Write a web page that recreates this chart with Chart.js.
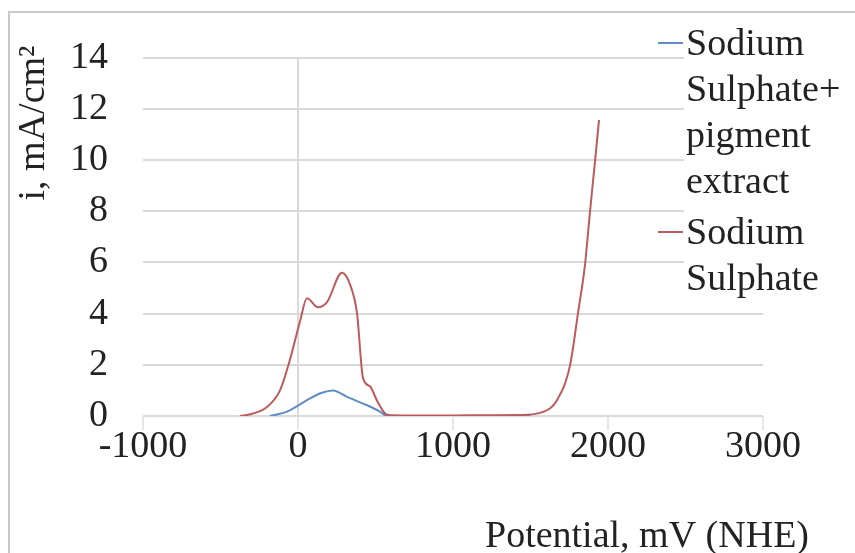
<!DOCTYPE html>
<html>
<head>
<meta charset="utf-8">
<script src="https://cdn.jsdelivr.net/npm/chart.js@4/dist/chart.umd.min.js"></script>
<style>
  html, body { margin: 0; padding: 0; background: #fff; }
  #wrap { position: relative; width: 855px; height: 553px; }
</style>
</head>
<body>
<div id="wrap"><canvas id="myChart" width="855" height="553"></canvas></div>
<script>
// Valores (potencial en mV, corriente en mA/cm2)
const sulphateX = [-374, -300, -200, -116, -52, 13, 58, 129, 187, 284, 335, 381, 419, 465, 510, 561, 594, 800, 1000, 1200, 1432, 1581, 1671, 1755, 1806, 1852, 1884, 1916, 1942];
const sulphateY = [0, 0.08, 0.35, 1.0, 2.2, 3.7, 4.6, 4.25, 4.45, 5.6, 5.15, 4.0, 1.5, 1.15, 0.6, 0.1, 0.03, 0.02, 0.02, 0.03, 0.04, 0.16, 0.62, 1.98, 4.0, 5.94, 8.0, 9.94, 11.57];

const pigmentX = [-181, -71, 58, 150, 226, 316, 445, 529, 574, 800, 1200, 1500];
const pigmentY = [0, 0.17, 0.62, 0.9, 1.0, 0.75, 0.42, 0.17, 0, 0, 0, 0.03];

const xTicks = [-1000, 0, 1000, 2000, 3000];
const yTicks = [0, 2, 4, 6, 8, 10, 12, 14];

const pigmentLabel = ['Sodium', 'Sulphate+', 'pigment', 'extract'];
const sulphateLabel = ['Sodium', 'Sulphate'];
const xTitle = 'Potential, mV (NHE)';
const yTitle = 'i, mA/cm²';

const FONT = '"Liberation Serif"';
const TEXT = '#222222';
const GRID = '#d9d9d9';

const toPoints = (xs, ys) => xs.map((x, i) => ({ x: x, y: ys[i] }));

// Marco, títulos y leyenda dibujados a mano
const extras = {
    id: 'extras',
    beforeDraw(chart) {
        const c = chart.ctx;
        c.save();
        c.fillStyle = '#fff';
        c.fillRect(0, 0, chart.width, chart.height);
        c.strokeStyle = '#c8c8c8';
        c.lineWidth = 2;
        c.beginPath();
        c.moveTo(9, 553);
        c.lineTo(9, 12);
        c.lineTo(855, 12);
        c.stroke();
        c.restore();
    },
    afterDraw(chart) {
        const c = chart.ctx;
        c.save();
        c.fillStyle = TEXT;
        c.font = '38px ' + FONT;

        // título eje Y
        c.save();
        c.translate(34, 123);
        c.rotate(-Math.PI / 2);
        c.textAlign = 'center';
        c.textBaseline = 'middle';
        c.fillText(yTitle, 0, 0);
        c.restore();

        // título eje X
        c.textAlign = 'left';
        c.textBaseline = 'alphabetic';
        c.fillText(xTitle, 485, 547);

        // leyenda
        c.fillStyle = '#fff';
        c.fillRect(684, 14, 171, 290);
        const ds = chart.data.datasets;
        const entries = [
            { lines: pigmentLabel, color: ds[1].borderColor, base: 55 },
            { lines: sulphateLabel, color: ds[0].borderColor, base: 244 }
        ];
        entries.forEach(e => {
            c.strokeStyle = e.color;
            c.lineWidth = 2;
            c.beginPath();
            c.moveTo(658, e.base - 12);
            c.lineTo(683, e.base - 12);
            c.stroke();
            c.fillStyle = TEXT;
            e.lines.forEach((t, i) => c.fillText(t, 686, e.base + i * 46));
        });
        c.restore();
    }
};

function draw() {
    const ctx = document.getElementById('myChart').getContext('2d');
    const myChart = new Chart(ctx, {
        type: 'scatter',
        data: {
            datasets: [{
                label: sulphateLabel.join(' '),
                data: toPoints(sulphateX, sulphateY),
                borderColor: '#bd5a5d',
                borderWidth: 2,
                showLine: true,
                pointRadius: 0,
                cubicInterpolationMode: 'monotone',
                order: 0
            }, {
                label: pigmentLabel.join(' '),
                data: toPoints(pigmentX, pigmentY),
                borderColor: '#5f8cc2',
                borderWidth: 2,
                showLine: true,
                pointRadius: 0,
                cubicInterpolationMode: 'monotone',
                order: 1
            }]
        },
        options: {
            responsive: false,
            animation: false,
            layout: { padding: { top: 56, right: 92, bottom: 0, left: 0 } },
            plugins: {
                legend: { display: false },
                tooltip: { enabled: false }
            },
            scales: {
                x: {
                    type: 'linear',
                    min: -1000,
                    max: 3000,
                    afterBuildTicks: s => { s.ticks = xTicks.map(v => ({ value: v })); },
                    afterFit: s => { s.height = 553 - 416; },
                    grid: {
                        color: c => (c.tick && c.tick.value === 0 ? GRID : 'rgba(0,0,0,0)'),
                        tickColor: '#e6e6e6',
                        lineWidth: 2,
                        tickLength: 14
                    },
                    border: { display: false },
                    ticks: {
                        color: TEXT,
                        font: { family: FONT, size: 38 },
                        padding: -6,
                        maxRotation: 0,
                        callback: v => String(v)
                    }
                },
                y: {
                    type: 'linear',
                    min: 0,
                    max: 14,
                    afterBuildTicks: s => { s.ticks = yTicks.map(v => ({ value: v })); },
                    afterFit: s => { s.width = 143; },
                    grid: { color: GRID, lineWidth: 2, drawTicks: false },
                    border: { display: false },
                    ticks: { color: TEXT, font: { family: FONT, size: 38 }, padding: 35 }
                }
            }
        },
        plugins: [extras]
    });
}

if (document.fonts && document.fonts.load) {
    document.fonts.load('38px ' + FONT).then(draw, draw);
} else {
    draw();
}
</script>
</body>
</html>
